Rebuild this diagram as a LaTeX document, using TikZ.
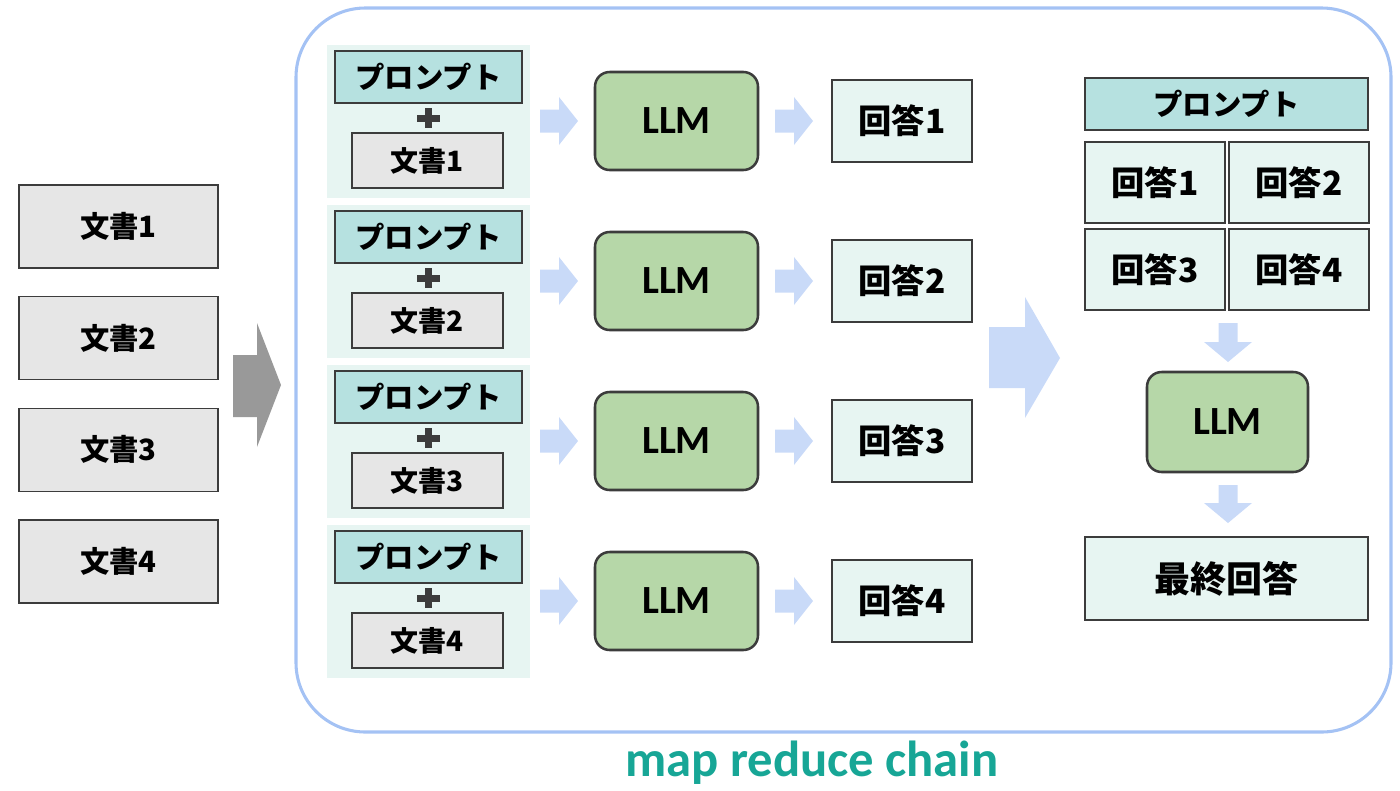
\documentclass[tikz,border=0pt]{standalone}
\usepackage{fontspec}
\setmainfont{Carlito}
\newfontfamily\jp{Noto Sans CJK JP}
\definecolor{docgray}{RGB}{230,230,230}
\definecolor{edgedark}{RGB}{60,60,60}
\definecolor{prompttl}{RGB}{182,225,224}
\definecolor{panelgr}{RGB}{231,245,242}
\definecolor{llmgreen}{RGB}{182,215,168}
\definecolor{arrowblue}{RGB}{201,218,248}
\definecolor{frameblue}{RGB}{164,194,244}
\definecolor{chainteal}{RGB}{23,166,150}
\definecolor{arrowgray}{RGB}{153,153,153}
\tikzset{
  docbox/.style={draw=edgedark,fill=docgray,line width=1.1pt,minimum width=149.25pt,minimum height=62.25pt,font=\bfseries\jp\fontsize{22}{26}\selectfont},
  smalldoc/.style={draw=edgedark,fill=docgray,line width=1.3pt,minimum width=113.25pt,minimum height=41.25pt,font=\bfseries\jp\fontsize{21}{25}\selectfont},
  promptbox/.style={draw=edgedark,fill=prompttl,line width=1.9pt,minimum height=39pt,font=\bfseries\jp\fontsize{22}{26}\selectfont},
  panel/.style={fill=panelgr,minimum width=152.25pt,minimum height=114.75pt},
  llmbox/.style={draw=edgedark,fill=llmgreen,line width=1.9pt,rounded corners=11pt,font=\bfseries\fontsize{30}{34}\selectfont},
  ansbox/.style={draw=edgedark,fill=panelgr,line width=1.9pt,minimum width=105pt,minimum height=61.5pt,font=\bfseries\jp\fontsize{25}{30}\selectfont},
  blockarrow/.style={fill=arrowblue,draw=none}
}
\begin{document}
\begin{tikzpicture}[x=0.75pt,y=0.75pt,yscale=-1,xscale=1]
\useasboundingbox (0,0) rectangle (1400,790);
%Frame of the chain
\draw [draw=frameblue,line width=2.3pt,rounded corners=52pt] (296,8) rectangle (1391,732);
\node (chain) at (812,763) [text=chainteal,font=\bfseries\fontsize{38}{42}\selectfont] {map reduce chain};
%Input documents
\foreach \n in {1,...,4}{
  \node (in\n) at (118.5,{226.5+111.67*(\n-1)}) [docbox] {文書\n};
}
%Shape: gray arrow
\fill [arrowgray] (233,355) -- (257,355) -- (257,323) -- (281,385) -- (257,447) -- (257,417) -- (233,417) -- cycle;
%Map rows
\foreach \n in {1,...,4}{
  \pgfmathsetmacro\yc{121+160*(\n-1)}
  \node (grp\n) at (428,\yc) [panel] {};
  \node (prm\n) at (428.5,\yc-44) [promptbox,minimum width=140.25pt] {プロンプト};
  \node (doc\n) at (427.5,\yc+39.5) [smalldoc] {文書\n};
  \fill [edgedark] (416.5,\yc-6.5) rectangle (439.5,\yc+0.5);
  \fill [edgedark] (424.5,\yc-13) rectangle (431.5,\yc+7);
  \fill [blockarrow] (540,\yc-11.5) -- (559,\yc-11.5) -- (559,\yc-24) -- (578,\yc) -- (559,\yc+24) -- (559,\yc+11.5) -- (540,\yc+11.5) -- cycle;
  \node (llm\n) at (676.5,\yc) [llmbox,minimum width=122.25pt,minimum height=73.5pt] {LLM};
  \fill [blockarrow] (775,\yc-11.5) -- (794,\yc-11.5) -- (794,\yc-24) -- (813,\yc) -- (794,\yc+24) -- (794,\yc+11.5) -- (775,\yc+11.5) -- cycle;
  \node (ans\n) at (902,\yc) [ansbox] {回答\n};
}
%Shape: big blue arrow
\fill [blockarrow] (989,327) -- (1025,327) -- (1025,297) -- (1060,358) -- (1025,418) -- (1025,388) -- (989,388) -- cycle;
%Reduce step
\node (rprm) at (1226.5,104) [promptbox,minimum width=212.25pt] {プロンプト};
\node (rans1) at (1155,182.5) [ansbox,minimum height=60.75pt] {回答1};
\node (rans2) at (1299,182.5) [ansbox,minimum height=60.75pt] {回答2};
\node (rans3) at (1155,269.5) [ansbox,minimum height=60.75pt] {回答3};
\node (rans4) at (1299,269.5) [ansbox,minimum height=60.75pt] {回答4};
\fill [blockarrow] (1218.5,323) -- (1237.5,323) -- (1237.5,342) -- (1252,342) -- (1228,362) -- (1204,342) -- (1218.5,342) -- cycle;
\node (rllm) at (1227.5,422) [llmbox,minimum width=120.75pt,minimum height=75pt] {LLM};
\fill [blockarrow] (1218.5,485) -- (1237.5,485) -- (1237.5,503) -- (1252,503) -- (1228,523) -- (1204,503) -- (1218.5,503) -- cycle;
\node (final) at (1226.5,578.5) [ansbox,minimum width=212.25pt,minimum height=62.25pt,font=\bfseries\jp\fontsize{27}{32}\selectfont] {最終回答};
\end{tikzpicture}
\end{document}
